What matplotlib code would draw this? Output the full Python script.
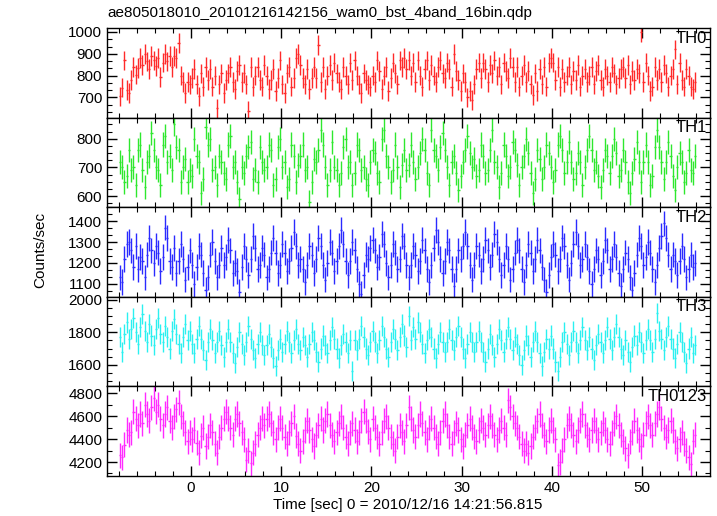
import numpy as np
import matplotlib
matplotlib.use("Agg")
import matplotlib.pyplot as plt
from matplotlib.ticker import MultipleLocator, AutoMinorLocator

plt.rcParams['font.family'] = ['Liberation Sans', 'DejaVu Sans']

# ==========================================
# DATA (count rates, 0.25 s bins)
# ==========================================
t_start = -7.875
bin_width = 0.25

th0 = [
    705, 745, 870, 735, 720, 780, 840, 805, 835, 880, 850, 900, 865, 830, 890, 870,
    845, 880, 795, 860, 900, 865, 890, 840, 890, 880, 950, 800, 770, 720, 770, 760,
    790, 830, 760, 705, 810, 750, 840, 780, 830, 750, 800, 650, 760, 810, 720, 780,
    810, 840, 770, 740, 820, 850, 770, 810, 760, 640, 840, 750, 800, 840, 780, 750,
    850, 800, 740, 780, 830, 730, 790, 870, 760, 720, 810, 840, 750, 790, 880, 900,
    850, 790, 760, 830, 740, 790, 840, 790, 940, 770, 840, 740, 800, 850, 780, 860,
    810, 770, 740, 840, 800, 760, 860, 780, 870, 800, 760, 720, 810, 780, 760, 750,
    800, 770, 870, 820, 740, 800, 840, 730, 790, 860, 810, 760, 870, 840, 880, 830,
    870, 800, 860, 770, 870, 800, 750, 830, 870, 780, 850, 800, 770, 840, 870, 810,
    790, 860, 830, 750, 900, 820, 780, 730, 810, 770, 700, 730, 690, 760, 830, 860,
    790, 860, 830, 770, 850, 810, 870, 800, 840, 760, 860, 820, 790, 880, 840, 770,
    840, 750, 800, 850, 770, 820, 760, 710, 810, 730, 830, 760, 840, 750, 860, 880,
    860, 780, 840, 750, 830, 770, 800, 840, 760, 820, 780, 850, 750, 800, 830, 770,
    800, 840, 760, 820, 850, 780, 750, 830, 800, 770, 840, 810, 760, 790, 830, 840,
    790, 850, 760, 820, 780, 830, 810, 1000, 770, 860, 800, 730, 750, 840, 780, 830,
    770, 850, 810, 750, 800, 830, 920, 760, 860, 780, 750, 830, 800, 750, 740, 770,
]

th1 = [
    720, 700, 650, 670, 760, 690, 700, 640, 760, 780, 690, 630, 720, 740, 820, 760,
    700, 690, 640, 780, 810, 720, 740, 690, 850, 770, 760, 650, 700, 730, 650, 690,
    670, 800, 740, 720, 610, 660, 840, 780, 800, 690, 700, 640, 740, 720, 680, 660,
    780, 810, 700, 720, 650, 590, 700, 680, 740, 770, 790, 660, 690, 650, 770, 720,
    690, 700, 780, 760, 640, 660, 770, 800, 700, 720, 630, 660, 780, 740, 650, 710,
    740, 780, 690, 700, 580, 650, 730, 720, 760, 830, 780, 700, 640, 690, 790, 700,
    690, 640, 680, 770, 800, 700, 720, 640, 680, 780, 760, 690, 700, 660, 640, 720,
    760, 750, 680, 650, 800, 830, 740, 700, 650, 690, 780, 700, 630, 710, 760, 690,
    710, 780, 720, 660, 700, 750, 800, 760, 680, 640, 830, 760, 740, 690, 770, 820,
    760, 700, 640, 720, 740, 680, 620, 670, 720, 760, 810, 750, 700, 730, 670, 690,
    780, 740, 680, 690, 760, 830, 720, 700, 630, 680, 780, 740, 670, 700, 790, 760,
    710, 640, 700, 740, 800, 750, 680, 610, 660, 760, 730, 660, 700, 780, 750, 700,
    650, 690, 780, 810, 760, 680, 720, 790, 720, 660, 680, 750, 720, 640, 700, 760,
    810, 760, 690, 720, 670, 630, 690, 760, 740, 680, 740, 800, 750, 670, 690, 760,
    720, 650, 610, 680, 730, 790, 720, 650, 720, 780, 720, 640, 670, 770, 830, 770,
    720, 660, 720, 790, 740, 670, 620, 700, 750, 720, 650, 680, 760, 690, 680, 740,
]

th2 = [
    1130, 1110, 1220, 1290, 1300, 1260, 1180, 1280, 1170, 1230, 1210, 1130, 1240, 1320, 1260, 1200,
    1280, 1250, 1160, 1230, 1370, 1320, 1210, 1180, 1270, 1150, 1210, 1290, 1220, 1120, 1180, 1260,
    1190, 1100, 1180, 1280, 1240, 1150, 1070, 1130, 1240, 1300, 1210, 1130, 1190, 1270, 1190, 1230,
    1310, 1260, 1150, 1200, 1160, 1060, 1180, 1280, 1220, 1140, 1220, 1330, 1270, 1170, 1190, 1270,
    1240, 1130, 1170, 1250, 1320, 1250, 1150, 1190, 1290, 1250, 1160, 1210, 1270, 1350, 1280, 1190,
    1220, 1170, 1110, 1190, 1280, 1240, 1150, 1220, 1320, 1280, 1190, 1120, 1200, 1300, 1250, 1160,
    1210, 1280, 1360, 1290, 1210, 1140, 1210, 1300, 1260, 1170, 1100, 1050, 1140, 1240, 1220, 1270,
    1310, 1260, 1180, 1230, 1340, 1290, 1200, 1130, 1190, 1290, 1250, 1170, 1220, 1330, 1280, 1190,
    1130, 1190, 1280, 1240, 1160, 1210, 1310, 1260, 1170, 1110, 1190, 1270, 1360, 1300, 1220, 1150,
    1210, 1300, 1260, 1170, 1090, 1170, 1260, 1220, 1280, 1350, 1280, 1190, 1120, 1190, 1280, 1240,
    1160, 1220, 1310, 1260, 1180, 1240, 1340, 1300, 1220, 1140, 1190, 1280, 1220, 1120, 1170, 1250,
    1310, 1260, 1170, 1110, 1190, 1290, 1250, 1160, 1220, 1310, 1260, 1180, 1120, 1060, 1140, 1230,
    1290, 1240, 1160, 1220, 1320, 1280, 1190, 1120, 1200, 1290, 1350, 1280, 1190, 1220, 1290, 1230,
    1160, 1100, 1170, 1260, 1220, 1140, 1210, 1310, 1260, 1170, 1220, 1290, 1230, 1150, 1090, 1170,
    1250, 1220, 1130, 1070, 1150, 1240, 1320, 1280, 1190, 1230, 1300, 1250, 1170, 1110, 1190, 1270,
    1330, 1390, 1320, 1240, 1170, 1240, 1210, 1140, 1210, 1280, 1220, 1130, 1170, 1240, 1180, 1200,
]

th3 = [
    1770, 1680, 1790, 1860, 1760, 1820, 1890, 1800, 1730, 1830, 1910, 1810, 1740, 1850, 1780, 1720,
    1820, 1890, 1790, 1740, 1840, 1770, 1700, 1810, 1880, 1790, 1730, 1670, 1770, 1850, 1750, 1810,
    1730, 1670, 1760, 1840, 1760, 1690, 1630, 1740, 1820, 1750, 1670, 1740, 1810, 1720, 1650, 1740,
    1820, 1740, 1670, 1610, 1710, 1800, 1730, 1660, 1740, 1840, 1760, 1690, 1640, 1730, 1800, 1720,
    1660, 1720, 1790, 1710, 1640, 1590, 1690, 1760, 1680, 1730, 1810, 1740, 1670, 1750, 1820, 1730,
    1690, 1770, 1720, 1650, 1730, 1800, 1750, 1680, 1620, 1700, 1780, 1720, 1670, 1750, 1830, 1760,
    1700, 1640, 1720, 1790, 1740, 1670, 1750, 1560, 1750, 1690, 1760, 1840, 1770, 1700, 1660, 1740,
    1810, 1740, 1670, 1750, 1840, 1770, 1700, 1650, 1740, 1820, 1760, 1690, 1770, 1850, 1780, 1710,
    1900, 1750, 1830, 1760, 1860, 1800, 1730, 1670, 1750, 1820, 1770, 1700, 1640, 1730, 1800, 1740,
    1680, 1740, 1820, 1750, 1690, 1770, 1840, 1770, 1700, 1640, 1730, 1800, 1740, 1680, 1740, 1810,
    1740, 1680, 1620, 1700, 1790, 1720, 1650, 1730, 1820, 1750, 1680, 1760, 1830, 1760, 1690, 1770,
    1730, 1660, 1600, 1690, 1780, 1720, 1650, 1740, 1810, 1740, 1670, 1590, 1680, 1760, 1700, 1780,
    1700, 1620, 1560, 1650, 1740, 1800, 1730, 1660, 1740, 1810, 1740, 1670, 1750, 1830, 1750, 1690,
    1770, 1700, 1630, 1720, 1790, 1740, 1670, 1750, 1830, 1760, 1690, 1770, 1850, 1770, 1700, 1660,
    1750, 1680, 1620, 1710, 1780, 1720, 1800, 1740, 1670, 1750, 1820, 1750, 1680, 1760, 1920, 1810,
    1760, 1690, 1770, 1840, 1760, 1700, 1640, 1730, 1800, 1740, 1680, 1610, 1700, 1770, 1670, 1720,
]

th0123 = [
    4260, 4240, 4350, 4480, 4440, 4460, 4640, 4580, 4520, 4620, 4540, 4700, 4620, 4560, 4680, 4760,
    4640, 4700, 4580, 4520, 4620, 4680, 4560, 4500, 4600, 4660, 4720, 4600, 4540, 4460, 4380, 4460,
    4400, 4480, 4370, 4280, 4430, 4500, 4340, 4420, 4520, 4460, 4360, 4280, 4420, 4500, 4580, 4640,
    4580, 4500, 4440, 4580, 4620, 4540, 4460, 4400, 4220, 4300, 4190, 4280, 4360, 4440, 4500, 4580,
    4520, 4580, 4620, 4540, 4460, 4400, 4500, 4580, 4500, 4420, 4360, 4460, 4540, 4600, 4430, 4360,
    4300, 4380, 4480, 4560, 4480, 4400, 4340, 4440, 4520, 4580, 4480, 4560, 4620, 4520, 4440, 4380,
    4460, 4540, 4600, 4500, 4420, 4360, 4460, 4540, 4480, 4380, 4460, 4560, 4640, 4560, 4470, 4400,
    4580, 4500, 4420, 4360, 4460, 4560, 4600, 4500, 4420, 4360, 4300, 4420, 4520, 4460, 4380, 4520,
    4680, 4580, 4480, 4420, 4520, 4620, 4540, 4460, 4400, 4500, 4580, 4500, 4420, 4360, 4460, 4560,
    4620, 4520, 4420, 4360, 4460, 4540, 4480, 4400, 4340, 4440, 4520, 4580, 4500, 4420, 4380, 4480,
    4560, 4500, 4440, 4520, 4600, 4520, 4440, 4400, 4480, 4560, 4500, 4440, 4740, 4680, 4600, 4540,
    4500, 4420, 4360, 4300, 4360, 4280, 4340, 4420, 4500, 4560, 4620, 4520, 4440, 4380, 4480, 4560,
    4480, 4400, 4170, 4200, 4300, 4400, 4520, 4580, 4520, 4440, 4380, 4480, 4560, 4620, 4520, 4440,
    4400, 4480, 4560, 4480, 4400, 4460, 4540, 4480, 4400, 4360, 4460, 4540, 4600, 4520, 4440, 4380,
    4320, 4260, 4380, 4460, 4560, 4480, 4400, 4340, 4440, 4540, 4600, 4520, 4440, 4540, 4620, 4680,
    4580, 4500, 4420, 4480, 4560, 4480, 4380, 4320, 4400, 4460, 4360, 4300, 4240, 4180, 4380, 4440,
]

names = ['TH0', 'TH1', 'TH2', 'TH3', 'TH0123']
errors = [45, 42, 62, 62, 110]
colors = ['#ff2a2a', '#2ee82e', '#2a2aff', '#2af0f0', '#ff2aff']
ylims = [(608, 1018), (561, 874), (1037, 1468), (1467, 2018), (4078, 4861)]
majors = [100, 100, 100, 200, 200]
minors = [3, 4, 3, 4, 2]
series = [th0, th1, th2, th3, th0123]

time = t_start + bin_width * np.arange(len(th0))

# ==========================================
# FIGURE
# ==========================================
fig = plt.figure(figsize=(7.17, 5.16), dpi=100)
left, width = 107 / 717, 603 / 717
top, bottom = 1 - 28 / 516, 1 - 476 / 516
h = (top - bottom) / 5

for i, (name, vals) in enumerate(zip(names, series)):
    ax = fig.add_axes([left, top - (i + 1) * h, width, h])
    ax.errorbar(time, vals, xerr=bin_width / 2, yerr=errors[i], fmt='none',
                ecolor=colors[i], elinewidth=1.0, capsize=0)
    ax.set_xlim(-9.3, 57.5)
    ax.set_ylim(*ylims[i])
    ax.yaxis.set_major_locator(MultipleLocator(majors[i]))
    ax.yaxis.set_minor_locator(AutoMinorLocator(minors[i]))
    ax.xaxis.set_major_locator(MultipleLocator(10))
    ax.xaxis.set_minor_locator(MultipleLocator(2))
    ax.tick_params(which='both', direction='in', top=True, right=True, labelsize=11)
    ax.tick_params(which='major', length=7, width=1)
    ax.tick_params(which='minor', length=3.5, width=0.8)
    for s in ax.spines.values():
        s.set_linewidth(1.0)
    if i < 4:
        ax.set_xticklabels([])
    ax.text(0.995, 0.97, name, transform=ax.transAxes, ha='right', va='top', fontsize=12)

fig.text(left, 1 - 13 / 516, 'ae805018010_20101216142156_wam0_bst_4band_16bin.qdp',
         ha='left', va='center', fontsize=11)
fig.text(40 / 717, 1 - 250 / 516, 'Counts/sec', rotation=90, ha='center', va='center', fontsize=11)
fig.text(408 / 717, 1 - 505 / 516, 'Time [sec] 0 = 2010/12/16 14:21:56.815',
         ha='center', va='center', fontsize=11)

fig.savefig('out.png', dpi=100)
